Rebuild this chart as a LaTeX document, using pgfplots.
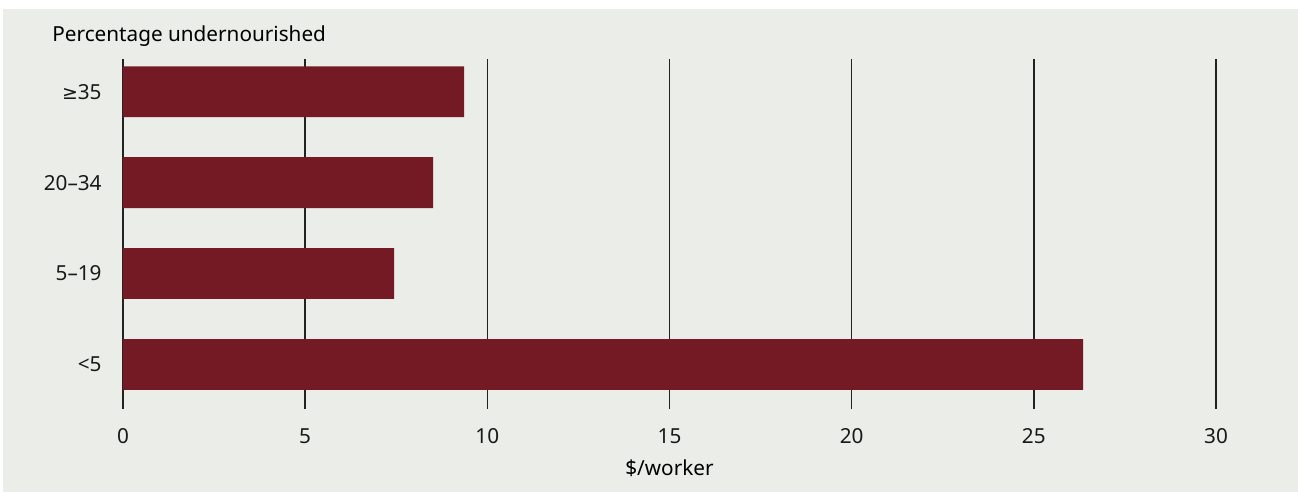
\documentclass[border=0pt]{standalone}
\usepackage{fontspec}
\setmainfont{Noto Sans}
\newfontfamily\symfont{DejaVu Sans}
\usepackage{pgfplots}
\pgfplotsset{compat=1.18}
\definecolor{panel}{HTML}{EBEDE8}
\definecolor{barred}{HTML}{731A24}
\definecolor{gridc}{HTML}{222222}

\begin{document}
\begin{tikzpicture}
% page and panel background
\useasboundingbox (-61.5bp,-42bp) rectangle (587.5bp,204.5bp);
\fill[white] (-61.5bp,-42bp) rectangle (587.5bp,204.5bp);
\fill[panel] (-60bp,-41.5bp) rectangle (587.5bp,200bp);
\begin{axis}[
    at={(0,0)}, anchor=south west,
    scale only axis,
    width=546.5bp, height=175bp,
    xbar,
    bar width=0.56,
    xmin=0, xmax=30,
    ymin=-0.49, ymax=3.36,
    xtick={0,5,...,30},
    ytick={0,1,2,3},
    yticklabels={<5,5–19,20–34,{\symfont\fontsize{9.5}{12}\selectfont≥}35},
    xmajorgrids,
    grid style={gridc, line width=0.7bp},
    axis line style={draw=none},
    major tick length=0pt,
    tick style={draw=none},
    /pgf/number format/assume math mode=true,
    tick label style={font=\fontsize{10.4}{12}\selectfont, text=black!90},
    yticklabel style={anchor=east, inner sep=0pt, xshift=-10.5bp},
    xticklabel style={anchor=north, inner sep=0pt, yshift=-9.5bp},
    xlabel={\$/worker},
    xlabel style={font=\fontsize{10.4}{12}\selectfont, anchor=center, at={(axis description cs:0.5,0)}, yshift=-29.5bp},
]
\addplot[fill=barred, draw=none] coordinates {(26.35,0) (7.44,1) (8.51,2) (9.36,3)};
\end{axis}
\node[anchor=west, inner sep=0pt, font=\fontsize{10.4}{12}\selectfont] at (-35.5bp,186.5bp) {Percentage undernourished};
\end{tikzpicture}
\end{document}
